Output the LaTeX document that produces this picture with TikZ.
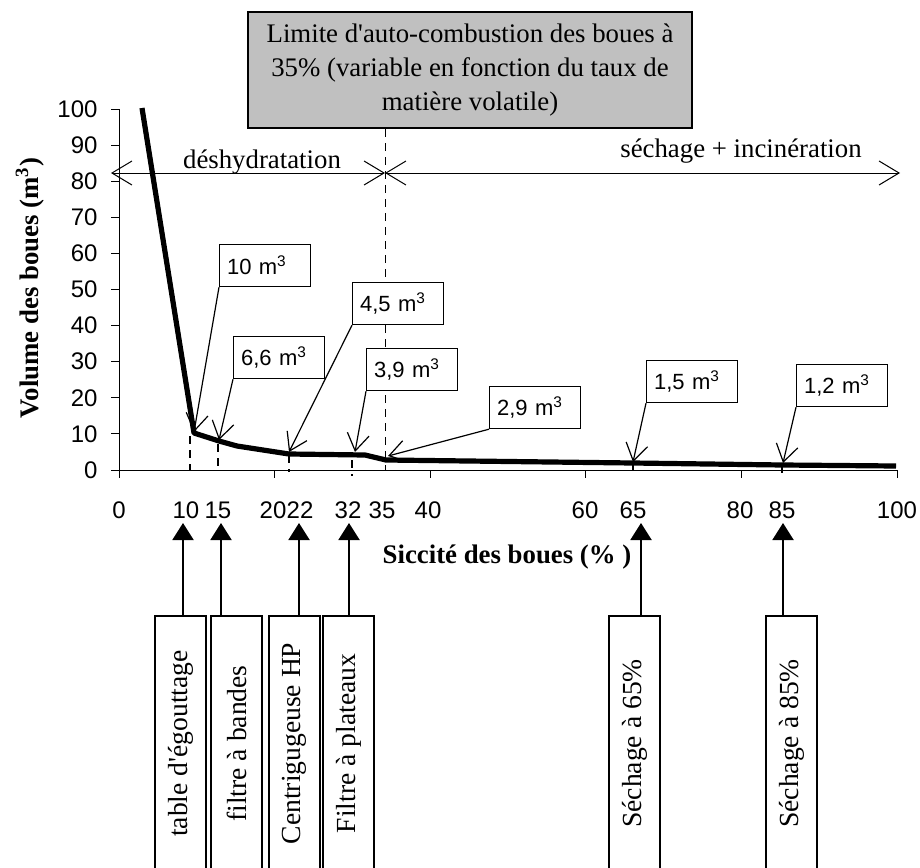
\documentclass[tikz,border=0pt]{standalone}
\usepackage{fontspec}
\setmainfont{Liberation Serif}
\setsansfont{Liberation Sans}
\usetikzlibrary{arrows.meta}
\definecolor{boxgray}{RGB}{192,192,192}

\begin{document}
\begin{tikzpicture}[x=0.5pt, y=-0.5pt, line width=0.5pt,
  serif/.style={font=\fontsize{13.4}{16.8}\selectfont},
  ticklbl/.style={inner sep=0pt, font=\sffamily\fontsize{12}{14}\selectfont},
  callout/.style={draw, fill=white, line width=0.6pt, anchor=north west,
    minimum width=45.5pt, minimum height=21pt, text width=38pt,
    inner xsep=3.5pt, align=left, font=\sffamily\fontsize{11}{13}\selectfont},
  procbox/.style={draw, line width=1pt, anchor=north, minimum width=25.5pt,
    minimum height=127.5pt, inner sep=0pt, font=\fontsize{13.8}{16}\selectfont},
  leader/.style={-{Straight Barb[length=8.5pt,width=11pt]}, line width=0.6pt},
  uparrow/.style={-{Triangle[length=8.5pt,width=10.5pt]}, line width=1pt},
  phase/.style={{Straight Barb[length=10pt,width=12pt]}-{Straight Barb[length=10pt,width=12pt]}},
  drop/.style={dash pattern=on 4pt off 3pt, line width=0.9pt}]
  \useasboundingbox (0,0) rectangle (920,867);

  % axes
  \draw (119,109) -- (119,470) -- (897,470);
  \foreach \v in {0,10,...,100} {
    \draw (111,{470-3.61*\v}) -- (119,{470-3.61*\v});
    \node[ticklbl, anchor=east] (y\v) at (98,{470-3.61*\v}) {\v};
  }
  \foreach \v in {0,20,...,100}
    \draw ({119+7.78*\v},470) -- ({119+7.78*\v},478);
  \foreach \v/\px in {0/119,10/186,15/218,20/273,22/300,32/348,35/382,40/428,60/585,65/633,80/740,85/782,100/897}
    \node[ticklbl] (x\v) at (\px,510) {\v};

  \node[rotate=90, font=\bfseries\fontsize{13.4}{15}\selectfont] (ylab) at (30,288) {Volume des boues (m\textsuperscript{3})};
  \node[font=\bfseries\fontsize{13.4}{15}\selectfont] (xlab) at (507,557) {Siccité des boues (\% )};

  % limite 35%
  \node[draw, fill=boxgray, line width=1pt, minimum width=222pt, minimum height=58pt,
    align=center, serif] (lim) at (470,70)
    {Limite d\textquotesingle auto-combustion des boues à\\35\% (variable en fonction du taux de\\matière volatile)};
  \coordinate (x35) at (385,470);
  \draw[dash pattern=on 4pt off 3pt] (lim.south -| x35) -- (x35);

  % phases
  \coordinate (hl) at (111,173);
  \coordinate (hm) at (385,173);
  \coordinate (hr) at (900,173);
  \draw[phase] (hl) -- (hm);
  \draw[phase] (hm) -- (hr);
  \node[serif, anchor=base] (deshy) at (262,168) {déshydratation};
  \node[serif, anchor=base] (sech) at (741,157) {séchage + incinération};

  % drop lines
  \draw[drop] (190,436) -- (190,470);
  \draw[drop] (218,444) -- (218,470);
  \draw[drop] (289,455) -- (289,472);
  \draw[drop] (352,460) -- (352,476);
  \draw[drop] (633,463) -- (633,474);
  \draw[drop] (782,465) -- (782,476);

  % courbe volume
  \draw[line width=2.6pt, line join=round] (142,108) -- (194,433) -- (219,441) -- (237,446)
    -- (289,454) -- (365,455) -- (386,460) -- (633,463) -- (783,465) -- (896,466);

  % volumes
  \coordinate (t10) at (194,432);
  \coordinate (t66) at (219,440);
  \coordinate (t45) at (289,452);
  \coordinate (t39) at (355,452);
  \coordinate (t29) at (388,456);
  \coordinate (t15) at (633,462);
  \coordinate (t12) at (783,463);
  \node[callout] (c10) at (219,244) {10 m\textsuperscript{3}};
  \node[callout] (c66) at (233,336) {6,6 m\textsuperscript{3}};
  \node[callout] (c45) at (352,282) {4,5 m\textsuperscript{3}};
  \node[callout] (c39) at (366,348) {3,9 m\textsuperscript{3}};
  \node[callout] (c29) at (489,386) {2,9 m\textsuperscript{3}};
  \node[callout] (c15) at (646,360) {1,5 m\textsuperscript{3}};
  \node[callout] (c12) at (796,364) {1,2 m\textsuperscript{3}};
  \draw[leader] (c10.south west) -- (t10);
  \draw[leader] (c66.south west) -- (t66);
  \draw[leader] (c45.south west) -- (t45);
  \draw[leader] (c39.south west) -- (t39);
  \draw[leader] (c29.south west) -- (t29);
  \draw[leader] (c15.south west) -- (t15);
  \draw[leader] (c12.south west) -- (t12);

  % procedes
  \coordinate (a10) at (183,523);
  \coordinate (a15) at (221,523);
  \coordinate (a22) at (299,523);
  \coordinate (a32) at (349,523);
  \coordinate (a65) at (641,523);
  \coordinate (a85) at (783,523);
  \node[procbox] (b10) at (180.5,615) {\rotatebox{90}{table d\textquotesingle égouttage}};
  \node[procbox] (b15) at (236.5,615) {\rotatebox{90}{filtre à bandes}};
  \node[procbox] (b22) at (294.5,615) {\rotatebox{90}{Centrigugeuse HP}};
  \node[procbox] (b32) at (348.5,615) {\rotatebox{90}{Filtre à plateaux}};
  \node[procbox] (b65) at (634.5,615) {\rotatebox{90}{Séchage à 65\%}};
  \node[procbox] (b85) at (791.5,615) {\rotatebox{90}{Séchage à 85\%}};
  \draw[uparrow] (b10.north -| a10) -- (a10);
  \draw[uparrow] (b15.north -| a15) -- (a15);
  \draw[uparrow] (b22.north -| a22) -- (a22);
  \draw[uparrow] (b32.north -| a32) -- (a32);
  \draw[uparrow] (b65.north -| a65) -- (a65);
  \draw[uparrow] (b85.north -| a85) -- (a85);
\end{tikzpicture}
\end{document}
